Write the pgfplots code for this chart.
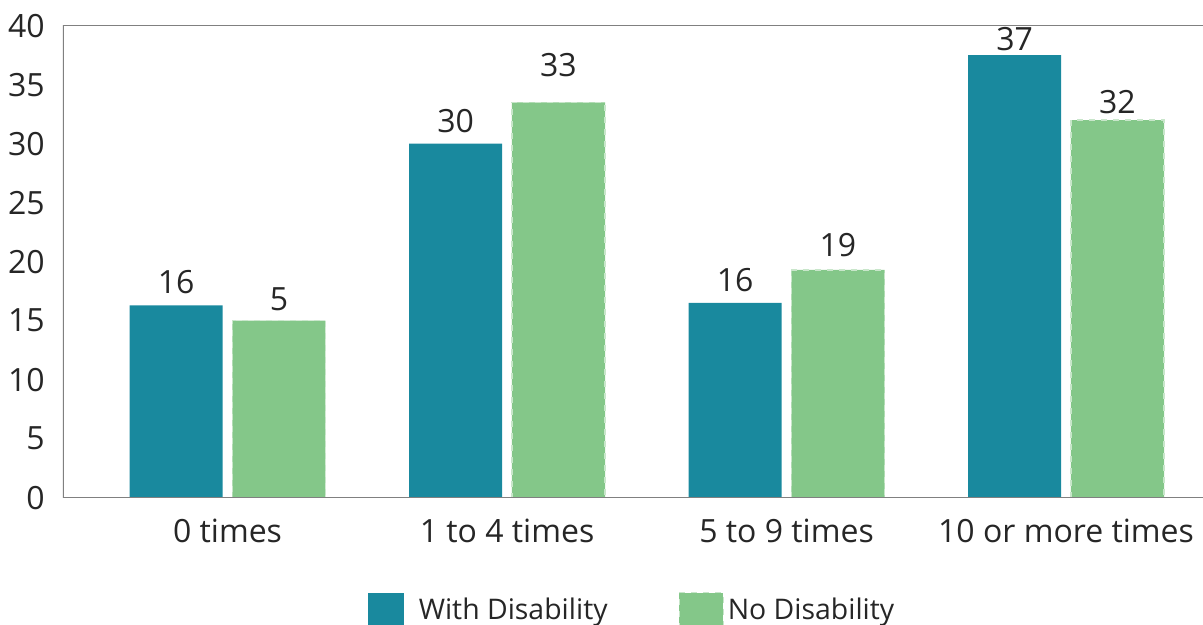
\documentclass[border=0pt]{standalone}
\usepackage{pgfplots}
\pgfplotsset{compat=1.18}
\usepackage{pgfplotstable}
\usepackage{fontspec}
\setmainfont{Open Sans}

\definecolor{withc}{HTML}{19899E}
\definecolor{noc}{HTML}{84C789}
\definecolor{txt}{HTML}{262626}
\definecolor{spine}{HTML}{808080}

% legend swatches: the first one carries extra room before its text
\pgfplotsset{
  withimg/.style={legend image code/.code={\fill[##1] (0pt,-9pt) rectangle (18pt,9pt);
    \path (23.5pt,0pt);}},
  noimg/.style={legend image code/.code={\fill[##1] (0pt,-9pt) rectangle (22pt,9pt);}},
}

% share of respondents by frequency; label columns hold the printed values,
% offset columns the gap (pt) between bar top and label baseline
\pgfplotstableread{
x with no   wlab nlab woff noff
0 16.3 15.0 16   5    5.85 5.0
1 30.0 33.5 30   33   5.8  12.8
2 16.5 19.3 16   19   5.8  6.65
3 37.5 32.0 37   32   2.15 3.15
}\data

\begin{document}
\begin{tikzpicture}[font=\fontsize{16}{19}\selectfont, text=txt]
\begin{axis}[
  name=ax,
  scale only axis, width=570pt, height=236pt,
  xmin=-0.5886, xmax=3.490, ymin=0, ymax=40,
  ytick={0,5,...,40},
  /pgf/number format/assume math mode=true,
  xtick=data,
  xticklabels={0 times, 1 to 4 times, 5 to 9 times, 10 or more times},
  major tick length=0pt,
  axis line style={draw=none},
  yticklabel style={anchor=east, inner sep=0pt, xshift=-9pt, text=txt},
  xticklabel style={anchor=base, inner sep=0pt, yshift=-22.65pt, text=txt},
  ybar, bar width=0.333,
  nodes near coords,
  point meta=explicit symbolic,
  every node near coord/.append style={anchor=base, inner sep=0pt, text=txt, solid},
  legend columns=2,
  legend style={draw=none, fill=none, at={(axis description cs:0.5,-0.2)}, anchor=north,
    xshift=-1pt, inner sep=0pt, outer sep=0pt,
    font=\fontsize{14.2}{17}\selectfont,
    nodes={inner sep=0pt, text=txt},
    /tikz/every even column/.append style={column sep=35.5pt},
    /tikz/every odd column/.append style={column sep=2pt}},
  legend cell align=left,
]
\addplot[fill=withc, draw=none, bar shift=-0.184,
  visualization depends on={\thisrow{woff} \as \off},
  every node near coord/.append style={yshift=\off pt},
  withimg]
  table[x=x, y=with, meta=wlab]{\data};
\addplot[fill=noc, draw=noc!45!white, dashed, line width=0.6pt, bar shift=0.184,
  visualization depends on={\thisrow{noff} \as \off},
  every node near coord/.append style={yshift=\off pt},
  noimg]
  table[x=x, y=no, meta=nlab]{\data};
\legend{With Disability, No Disability}
\draw[spine, line width=0.75pt] (rel axis cs:1,1) -- (rel axis cs:0,1) -- (rel axis cs:0,0) -- (rel axis cs:1,0);
\end{axis}
\pgfresetboundingbox
\path (ax.south west) ++(-31.5pt,-63.65pt) rectangle ++(601.5pt,312.5pt);
\end{tikzpicture}
\end{document}
